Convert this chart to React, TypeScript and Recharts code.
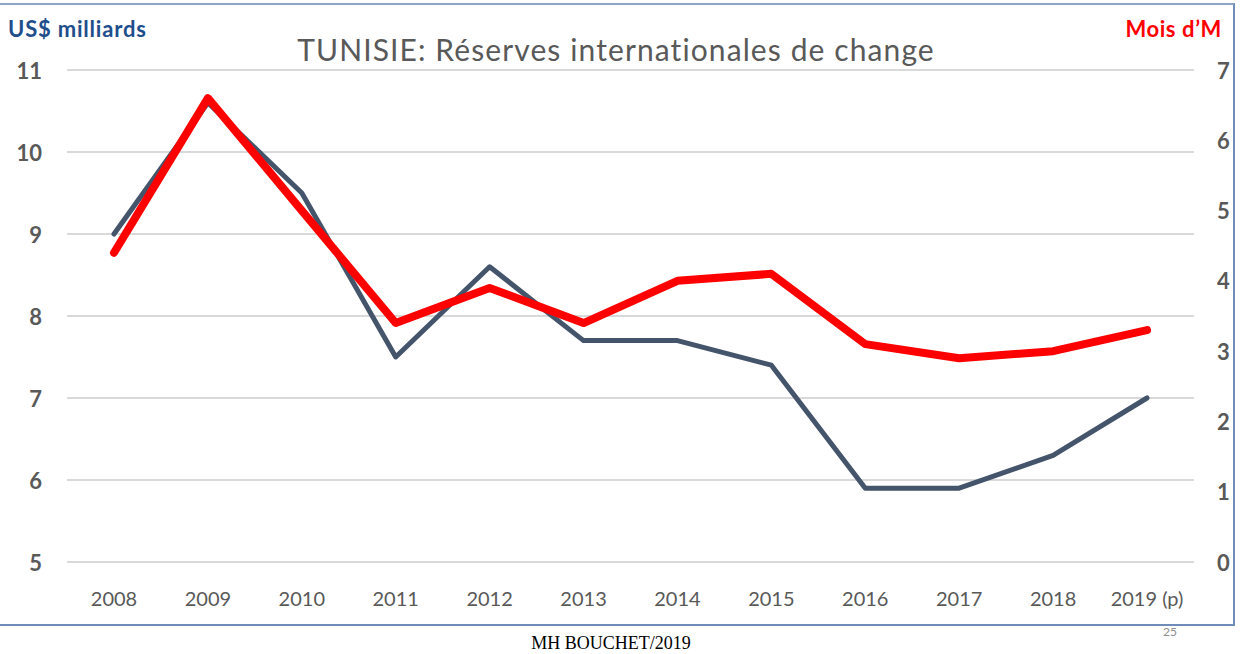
import React from "react";
import { LineChart, Line, XAxis, YAxis, CartesianGrid } from "recharts";

const years = ["2008", "2009", "2010", "2011", "2012", "2013", "2014", "2015", "2016", "2017", "2018", "2019 (p)"];
const reserves = [9.0, 10.6, 9.5, 7.5, 8.6, 7.7, 7.7, 7.4, 5.9, 5.9, 6.3, 7.0];
const monthsOfImports = [4.4, 6.6, 5.0, 3.4, 3.9, 3.4, 4.0, 4.1, 3.1, 2.9, 3.0, 3.3];
const leftTicks = [5, 6, 7, 8, 9, 10, 11];
const rightTicks = [0, 1, 2, 3, 4, 5, 6, 7];

const title = "TUNISIE: Réserves internationales de change";
const leftLabel = "US$ milliards";
const rightLabel = "Mois d\u2019M";
const footer = "MH BOUCHET/2019";
const pageNo = "25";

const data = years.map((y, i) => ({ year: y, reserves: reserves[i], months: monthsOfImports[i] }));

const FONT = "Lato, 'Open Sans', sans-serif";
const GRAY = "#595959";

const LeftTick = (props: any) => (
  <text x={42} y={props.y} textAnchor="end" dominantBaseline="central" fontFamily={FONT} fontWeight={700} fontSize={22} fill={GRAY}>
    {props.payload.value}
  </text>
);
const RightTick = (props: any) => (
  <text x={1217} y={props.y} textAnchor="start" dominantBaseline="central" fontFamily={FONT} fontWeight={700} fontSize={22} fill={GRAY}>
    {props.payload.value}
  </text>
);
const BottomTick = (props: any) => (
  <text x={props.x} y={598} textAnchor="middle" dominantBaseline="central" fontFamily={FONT} fontSize={20} fill={GRAY}>
    {props.payload.value}
  </text>
);

export default function App() {
  return (
    <div style={{ position: "absolute", left: 0, top: 0, width: 1243, height: 654, background: "#fff", overflow: "hidden" }}>
      <div style={{ position: "absolute", left: -2, top: 3, width: 1235, height: 619, borderTop: "2px solid #8EA4C4", borderRight: "2px solid #6F8DB8", borderBottom: "2px solid #6F8DB8" }} />
      <LineChart width={1243} height={654} data={data} margin={{ top: 70, right: 0, bottom: 52, left: 0 }}>
        <CartesianGrid yAxisId="left" vertical={false} stroke="#D9D9D9" strokeWidth={2} />
        <XAxis dataKey="year" axisLine={false} tickLine={false} tick={BottomTick} height={40} padding={{ left: 47, right: 47 }} interval={0} />
        <YAxis yAxisId="left" domain={[5, 11]} ticks={leftTicks} axisLine={false} tickLine={false} tick={LeftTick} width={67} />
        <YAxis yAxisId="right" orientation="right" domain={[0, 7]} ticks={rightTicks} axisLine={false} tickLine={false} tick={RightTick} width={49} />
        <Line yAxisId="left" dataKey="reserves" type="linear" stroke="#44546A" strokeWidth={5} dot={false} isAnimationActive={false} strokeLinecap="round" strokeLinejoin="round" />
        <Line yAxisId="right" dataKey="months" type="linear" stroke="#FF0000" strokeWidth={8} dot={false} isAnimationActive={false} strokeLinecap="round" strokeLinejoin="round" />
      </LineChart>
      <div style={{ position: "absolute", left: 0, width: 1232, top: 30, textAlign: "center", fontFamily: FONT, fontSize: 30, letterSpacing: 1.1, color: GRAY, lineHeight: "38px", whiteSpace: "nowrap" }}>
        {title}
      </div>
      <div style={{ position: "absolute", left: 8, top: 15, fontFamily: FONT, fontWeight: 700, fontSize: 22, letterSpacing: 0.8, color: "#1F4E8C", lineHeight: "28px", whiteSpace: "nowrap" }}>
        {leftLabel}
      </div>
      <div style={{ position: "absolute", right: 21, top: 15, fontFamily: FONT, fontWeight: 700, fontSize: 22, letterSpacing: 0.6, color: "#FF0000", lineHeight: "28px", whiteSpace: "nowrap" }}>
        {rightLabel}
      </div>
      <div style={{ position: "absolute", left: 0, width: 1222, top: 632, textAlign: "center", fontFamily: "'Liberation Serif', 'Times New Roman', serif", fontSize: 18, color: "#000", lineHeight: "22px" }}>
        {footer}
      </div>
      <div style={{ position: "absolute", left: 1163, top: 625, fontFamily: FONT, fontSize: 12, color: "#8C8C8C", lineHeight: "14px" }}>
        {pageNo}
      </div>
    </div>
  );
}
